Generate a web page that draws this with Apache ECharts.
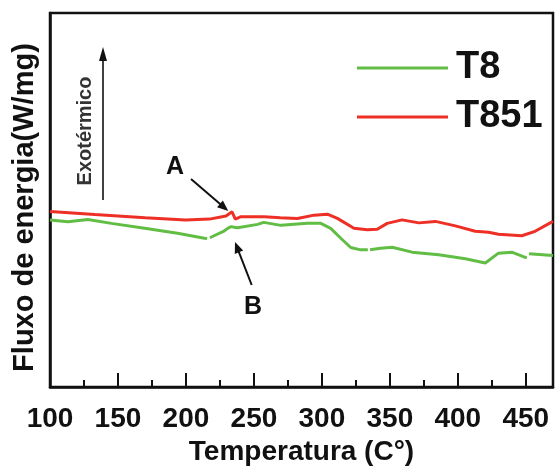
<!DOCTYPE html>
<html>
<head>
<meta charset="utf-8">
<script src="https://cdn.jsdelivr.net/npm/echarts@6/dist/echarts.min.js"></script>
<style>
html,body{margin:0;padding:0;background:#fff;}
#chart{width:556px;height:471px;}
</style>
</head>
<body>
<div id="chart"></div>
<script>
// ---- Data ----
var tempT8 = [100, 113.2, 127.9, 145.2, 169.6, 193.8, 213.6, 215.6, 216.6, 217.6, 218.5, 228.3, 230.7, 233.2, 235.6, 238, 252.7, 257.2, 269.9, 289.4, 299.2, 306.5, 313.9, 321.2, 328.5, 333.8, 334.6, 335.4, 343.2, 351.7, 366.3, 385.9, 405.5, 420.2, 429.9, 439.7, 449.5, 450.8, 451.6, 452.4, 453.5, 470];
var fluxT8 = [1.685, 1.667, 1.69, 1.65, 1.60, 1.55, 1.50, 1.497, null, 1.505, 1.51, 1.575, 1.60, 1.617, 1.61, 1.605, 1.64, 1.66, 1.63, 1.65, 1.65, 1.60, 1.50, 1.407, 1.383, 1.385, null, 1.385, 1.40, 1.41, 1.36, 1.333, 1.293, 1.25, 1.35, 1.36, 1.307, 1.31, null, 1.345, 1.35, 1.325];

var tempT851 = [100, 133, 150, 170, 199.6, 217.3, 229.5, 233.9, 236.3, 240.5, 257.6, 269.4, 282, 294.3, 304, 311.4, 323.6, 333.4, 340.7, 348, 359, 371.3, 383.5, 398.2, 412.8, 422.6, 429.9, 447, 456.8, 470];
var fluxT851 = [1.77, 1.74, 1.725, 1.707, 1.683, 1.693, 1.725, 1.767, 1.693, 1.717, 1.717, 1.707, 1.70, 1.733, 1.743, 1.70, 1.60, 1.585, 1.59, 1.65, 1.685, 1.655, 1.67, 1.625, 1.57, 1.56, 1.54, 1.525, 1.57, 1.67];

var seriesNames = ['T8', 'T851'];
var seriesColors = ['#62bd45', '#ee2f25'];
var xTickLabels = ['100', '150', '200', '250', '300', '350', '400', '450'];

function zip(xs, ys) {
  return xs.map(function (x, i) { return [x, ys[i] === null ? '-' : ys[i]]; });
}

var FONT = "'Liberation Sans', Arial, Helvetica, sans-serif";

function arrow(x1, y1, x2, y2, headLen, headHalf, lw) {
  var dx = x2 - x1, dy = y2 - y1;
  var L = Math.sqrt(dx * dx + dy * dy);
  var ux = dx / L, uy = dy / L;
  var bx = x2 - headLen * ux, by = y2 - headLen * uy;
  var px = -uy * headHalf, py = ux * headHalf;
  return [
    { type: 'line', shape: { x1: x1, y1: y1, x2: bx + ux, y2: by + uy }, style: { stroke: '#111', lineWidth: lw } },
    { type: 'polygon', shape: { points: [[x2, y2], [bx + px, by + py], [bx - px, by - py]] }, style: { fill: '#111' } }
  ];
}

var chart = echarts.init(document.getElementById('chart'), null, { renderer: 'canvas' });

var graphics = []
  .concat(arrow(103, 200, 103, 47, 14, 4, 1.6))
  .concat(arrow(191, 179, 228.3, 211, 11, 4.5, 2))
  .concat(arrow(251.7, 285, 235, 242, 11, 4.5, 2))
  .concat([
    { type: 'text', x: 85, y: 131, rotation: Math.PI / 2,
      style: { text: 'Exotérmico', font: 'bold 20px ' + FONT, fill: '#333', textAlign: 'center', textVerticalAlign: 'middle' } },
    { type: 'text', x: 175, y: 167,
      style: { text: 'A', font: 'bold 25px ' + FONT, fill: '#111', textAlign: 'center', textVerticalAlign: 'middle' } },
    { type: 'text', x: 253, y: 307,
      style: { text: 'B', font: 'bold 25px ' + FONT, fill: '#111', textAlign: 'center', textVerticalAlign: 'middle' } }
  ]);

var legendText = { fontFamily: FONT, fontWeight: 'bold', fontSize: 38, color: '#111', padding: [0, 0, 0, 3] };

var option = {
  backgroundColor: '#fff',
  animation: false,
  grid: { left: 50, right: 3, top: 13, bottom: 81, show: true, borderColor: '#111', borderWidth: 2.5, backgroundColor: 'transparent' },
  legend: [
    { data: [seriesNames[0]], left: 352, top: 44, itemWidth: 91, itemHeight: 3, icon: 'rect', textStyle: legendText },
    { data: [seriesNames[1]], left: 352, top: 93, itemWidth: 91, itemHeight: 3, icon: 'rect', textStyle: legendText }
  ],
  xAxis: [
    {
      type: 'value', min: 100, max: 470, interval: 50, position: 'bottom',
      axisLine: { show: true, lineStyle: { color: '#111', width: 2.5 } },
      axisTick: { show: true, inside: true, length: 14, lineStyle: { color: '#111', width: 2 } },
      axisLabel: { show: true, margin: 18, showMaxLabel: false,
        fontFamily: FONT, fontWeight: 'bold', fontSize: 28, color: '#111',
        formatter: function (v) { var s = String(v); return xTickLabels.indexOf(s) >= 0 ? s : ''; } },
      splitLine: { show: false },
      name: 'Temperatura (C°)', nameLocation: 'middle', nameGap: 45,
      nameTextStyle: { fontFamily: FONT, fontWeight: 'bold', fontSize: 28, color: '#111' }
    },
    {
      type: 'value', min: 100, max: 470, interval: 25, position: 'bottom',
      axisLine: { show: false },
      axisTick: { show: true, inside: true, length: 7, lineStyle: { color: '#111', width: 2 } },
      axisLabel: { show: false },
      splitLine: { show: false }
    }
  ],
  yAxis: {
    type: 'value', min: 0, max: 3.77,
    axisLine: { show: true, lineStyle: { color: '#111', width: 2.5 } },
    axisTick: { show: false },
    axisLabel: { show: false },
    splitLine: { show: false },
    name: 'Fluxo de energia(W/mg)', nameLocation: 'middle', nameGap: 11, nameRotate: 90,
    nameTextStyle: { fontFamily: FONT, fontWeight: 'bold', fontSize: 29, color: '#111', padding: [0, 15, 0, 0] }
  },
  series: [
    { name: seriesNames[0], type: 'line', xAxisIndex: 0, data: zip(tempT8, fluxT8), symbol: 'none', connectNulls: false,
      lineStyle: { color: seriesColors[0], width: 3 }, itemStyle: { color: seriesColors[0] } },
    { name: seriesNames[1], type: 'line', xAxisIndex: 0, data: zip(tempT851, fluxT851), symbol: 'none', connectNulls: false,
      lineStyle: { color: seriesColors[1], width: 3 }, itemStyle: { color: seriesColors[1] } }
  ],
  graphic: graphics
};
chart.setOption(option);
</script>
</body>
</html>
